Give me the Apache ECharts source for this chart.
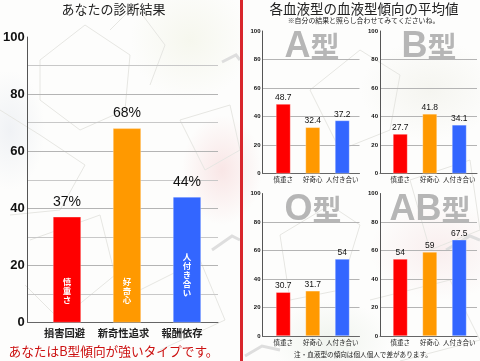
<!DOCTYPE html>
<html>
<head>
<meta charset="utf-8">
<style>
html, body { margin: 0; padding: 0; }
body {
  width: 480px; height: 361px; overflow: hidden;
  background:
    radial-gradient(ellipse 40px 55px at 222px 170px, #f9e6e6, transparent),
    radial-gradient(ellipse 70px 50px at 440px 250px, #f9eeee, transparent),
    radial-gradient(ellipse 60px 60px at 190px 40px, #f6f7ee, transparent),
    radial-gradient(ellipse 70px 50px at 430px 90px, #f5f5f0, transparent),
    radial-gradient(ellipse 35px 60px at 10px 130px, #f0f2f5, transparent),
    radial-gradient(ellipse 60px 40px at 330px 340px, #f0f4ee, transparent),
    #fdfdfc;
}
#chart { width: 480px; height: 361px; filter: blur(0.3px); }
</style>
<script src="https://cdn.jsdelivr.net/npm/echarts@6/dist/echarts.min.js"></script>
</head>
<body>
<div id="chart"></div>
<script>
// main chart
const mainCategories = ["損害回避", "新奇性追求", "報酬依存"];
const mainInner = ["慎重さ", "好奇心", "人付き合い"];
const mainValues = [37, 68, 44];

// blood type charts
const subCategories = ["慎重さ", "好奇心", "人付き合い"];
const typeA = [48.7, 32.4, 37.2];
const typeB = [27.7, 41.8, 34.1];
const typeO = [30.7, 31.7, 54];
const typeAB = [54, 59, 67.5];

const barColors = ["#ff0000", "#ff9900", "#3366ff"];
const FONT = '"Liberation Sans", "Noto Sans CJK JP", sans-serif';
const JP = '"Noto Sans CJK JP", sans-serif';

const grids = [], xAxes = [], yAxes = [], series = [], titles = [];

// one panel = a frame grid (axis + grid lines) and a narrower grid holding the bars
function addPanel(p) {
  const frame = grids.length;
  grids.push({ left: p.left, top: p.top, width: p.width, height: p.height });
  xAxes.push({
    gridIndex: frame, type: "category", data: p.cats,
    axisLine: { lineStyle: { color: "#666", width: 1 } },
    axisTick: { show: false }, axisLabel: { show: false }
  });
  yAxes.push({
    gridIndex: frame, type: "value", min: 0, max: 100, interval: 20,
    axisLine: { show: true, lineStyle: { color: "#555", width: 1 } },
    axisTick: { show: false },
    axisLabel: { color: "#111", fontWeight: "bold", fontSize: p.yFont, fontFamily: FONT, margin: p.yMargin },
    splitLine: { showMaxLine: false, lineStyle: { color: "#b4b4b4", width: 1 } },
    minorTick: { show: false, splitNumber: p.minor ? 2 : 1 },
    minorSplitLine: { show: !!p.minor, lineStyle: { color: "#c8c8c8", width: 1 } }
  });

  const inner = grids.length;
  grids.push({ left: p.barLeft, top: p.top, width: p.barWidth, height: p.height });
  xAxes.push({
    gridIndex: inner, type: "category", data: p.cats,
    axisLine: { show: false }, axisTick: { show: false },
    axisLabel: Object.assign({
      color: "#222", fontFamily: JP, fontSize: p.xFont, fontWeight: p.xWeight,
      margin: p.xMargin, interval: 0
    }, p.xLabel)
  });
  yAxes.push({
    gridIndex: inner, type: "value", min: 0, max: 100, show: false, splitLine: { show: false }
  });

  series.push({
    type: "bar", xAxisIndex: inner, yAxisIndex: inner, barWidth: p.bar, barGap: "-100%",
    data: p.values.map((v, i) => ({
      value: v,
      itemStyle: { color: barColors[i], borderColor: "rgba(255,255,255,0.6)", borderWidth: 0.5 },
      label: p.inner ? {
        show: true, position: "insideBottom", distance: p.innerDist[i],
        formatter: p.inner[i].split("").join("\n"),
        color: "#fff", fontSize: 8.5, fontWeight: "bold", lineHeight: 9, fontFamily: JP, textBorderWidth: 0
      } : { show: false }
    }))
  });
  series.push({
    type: "bar", xAxisIndex: inner, yAxisIndex: inner, barWidth: p.bar, barGap: "-100%",
    itemStyle: { color: "transparent" },
    data: p.values,
    label: {
      show: true, position: "top", distance: p.labelDist, color: "#111",
      fontFamily: FONT, fontSize: p.labelFont, formatter: p.fmt
    }
  });
  if (p.name) {
    const [latin, kanji] = [p.name.slice(0, -1), p.name.slice(-1)];
    titles.push({
      text: "{l|" + latin + "}{k|" + kanji + "}", left: p.nameX, top: p.nameY,
      textAlign: "center", textVerticalAlign: "middle", padding: 0, z: 0,
      textStyle: {
        rich: {
          l: { color: "#b6b6b6", fontSize: 36, fontWeight: "bold", fontFamily: FONT },
          k: { color: "#b6b6b6", fontSize: 29, fontWeight: "bold", fontFamily: JP }
        }
      }
    });
  }
}

addPanel({
  left: 25, top: 37, width: 193, height: 285.5, cats: mainCategories, values: mainValues,
  barLeft: 37, barWidth: 180, bar: 28, yFont: 13, yMargin: 3, xFont: 10.3, xWeight: "bold", xMargin: 5,
  xLabel: {
    formatter: (v, i) => "{c" + i + "|" + v + "}",
    rich: {
      c0: { padding: [0, 5, 0, 0] }, c1: { padding: [0, 7, 0, 0] }, c2: { padding: [0, 10, 0, 0] }
    }
  },
  minor: true, inner: mainInner, innerDist: [18, 18, 25], labelFont: 14, labelDist: 8, fmt: "{c}%"
});

const subPanels = [
  { name: "A型", values: typeA, left: 262.5, top: 31, nameX: 312, nameY: 47, barLeft: 268.5 },
  { name: "B型", values: typeB, left: 380, top: 31, nameX: 429, nameY: 47, barLeft: 385.5 },
  { name: "O型", values: typeO, left: 262.5, top: 193.5, nameX: 313, nameY: 210, barLeft: 268.5 },
  { name: "AB型", values: typeAB, left: 380, top: 193.5, nameX: 430, nameY: 210, barLeft: 385.5 }
];
subPanels.forEach(s => addPanel(Object.assign({
  width: 97, height: 142.5, cats: subCategories, barWidth: 88.5, bar: 14.5,
  yFont: 6, yMargin: 2, xFont: 6.5, xWeight: "normal", xMargin: 3,
  labelFont: 8.5, labelDist: 2, fmt: "{c}"
}, s)));

function addText(text, x, y, size, color) {
  titles.push({
    text, left: x, top: y, padding: 0, textAlign: "center", textVerticalAlign: "middle",
    textStyle: { color, fontSize: size, fontWeight: "normal", fontFamily: JP }
  });
}
addText("あなたの診断結果", 113.5, 9, 13, "#222");
addText("各血液型の血液型傾向の平均値", 364, 9, 13.5, "#222");
addText("※自分の結果と照らし合わせてみてくださいね。", 363.5, 20, 6.9, "#222");
addText("あなたはB型傾向が強いタイプです。", 113.5, 351, 12.7, "#cc1111");
addText("注・血液型の傾向は個人個人で差があります。", 363, 354, 6.6, "#222");

// faint map lines behind everything
const mapLines = [
  [[40, 60], [85, 25], [130, 55], [125, 110], [80, 130], [40, 100], [40, 60]],
  [[110, 30], [135, 5], [165, 45], [150, 85]],
  [[0, 110], [40, 135], [85, 165], [60, 210], [10, 215]],
  [[180, 120], [230, 105], [240, 150], [205, 170], [180, 120]],
  [[30, 240], [100, 215], [115, 275], [60, 320], [25, 285]],
  [[280, 235], [330, 205], [360, 225], [340, 290], [290, 300], [280, 235]],
  [[360, 50], [400, 75], [390, 130], [340, 150], [310, 90], [360, 50]],
  [[410, 180], [470, 160], [480, 230], [430, 250], [410, 180]],
  [[120, 300], [200, 260], [225, 320], [160, 350]],
  [[370, 300], [450, 280], [480, 340], [400, 361]]
];
const graphic = mapLines.map(points => ({
  type: "polyline", z: -10, silent: true, shape: { points },
  style: { stroke: "#e6e6e2", lineWidth: 1, fill: null }
}));
// chunkier pale marks from the backdrop
[
  [[222, 62], [236, 55], [240, 60]],
  [[446, 250], [470, 236], [480, 240]],
  [[212, 250], [232, 236], [240, 240]],
  [[245, 356], [262, 346], [280, 350]]
].forEach(points => graphic.push({
  type: "polyline", z: -10, silent: true, shape: { points },
  style: { stroke: "#dedede", lineWidth: 3, fill: null }
}));
// red divider
graphic.push({
  type: "rect", z: 10, silent: true, shape: { x: 240, y: 0, width: 3, height: 361 },
  style: { fill: "#d8262c" }
});

const chart = echarts.init(document.getElementById("chart"), null, { renderer: "canvas" });
chart.setOption({
  animation: false,
  backgroundColor: "transparent",
  title: titles,
  grid: grids,
  xAxis: xAxes,
  yAxis: yAxes,
  series,
  graphic
});
</script>
</body>
</html>
